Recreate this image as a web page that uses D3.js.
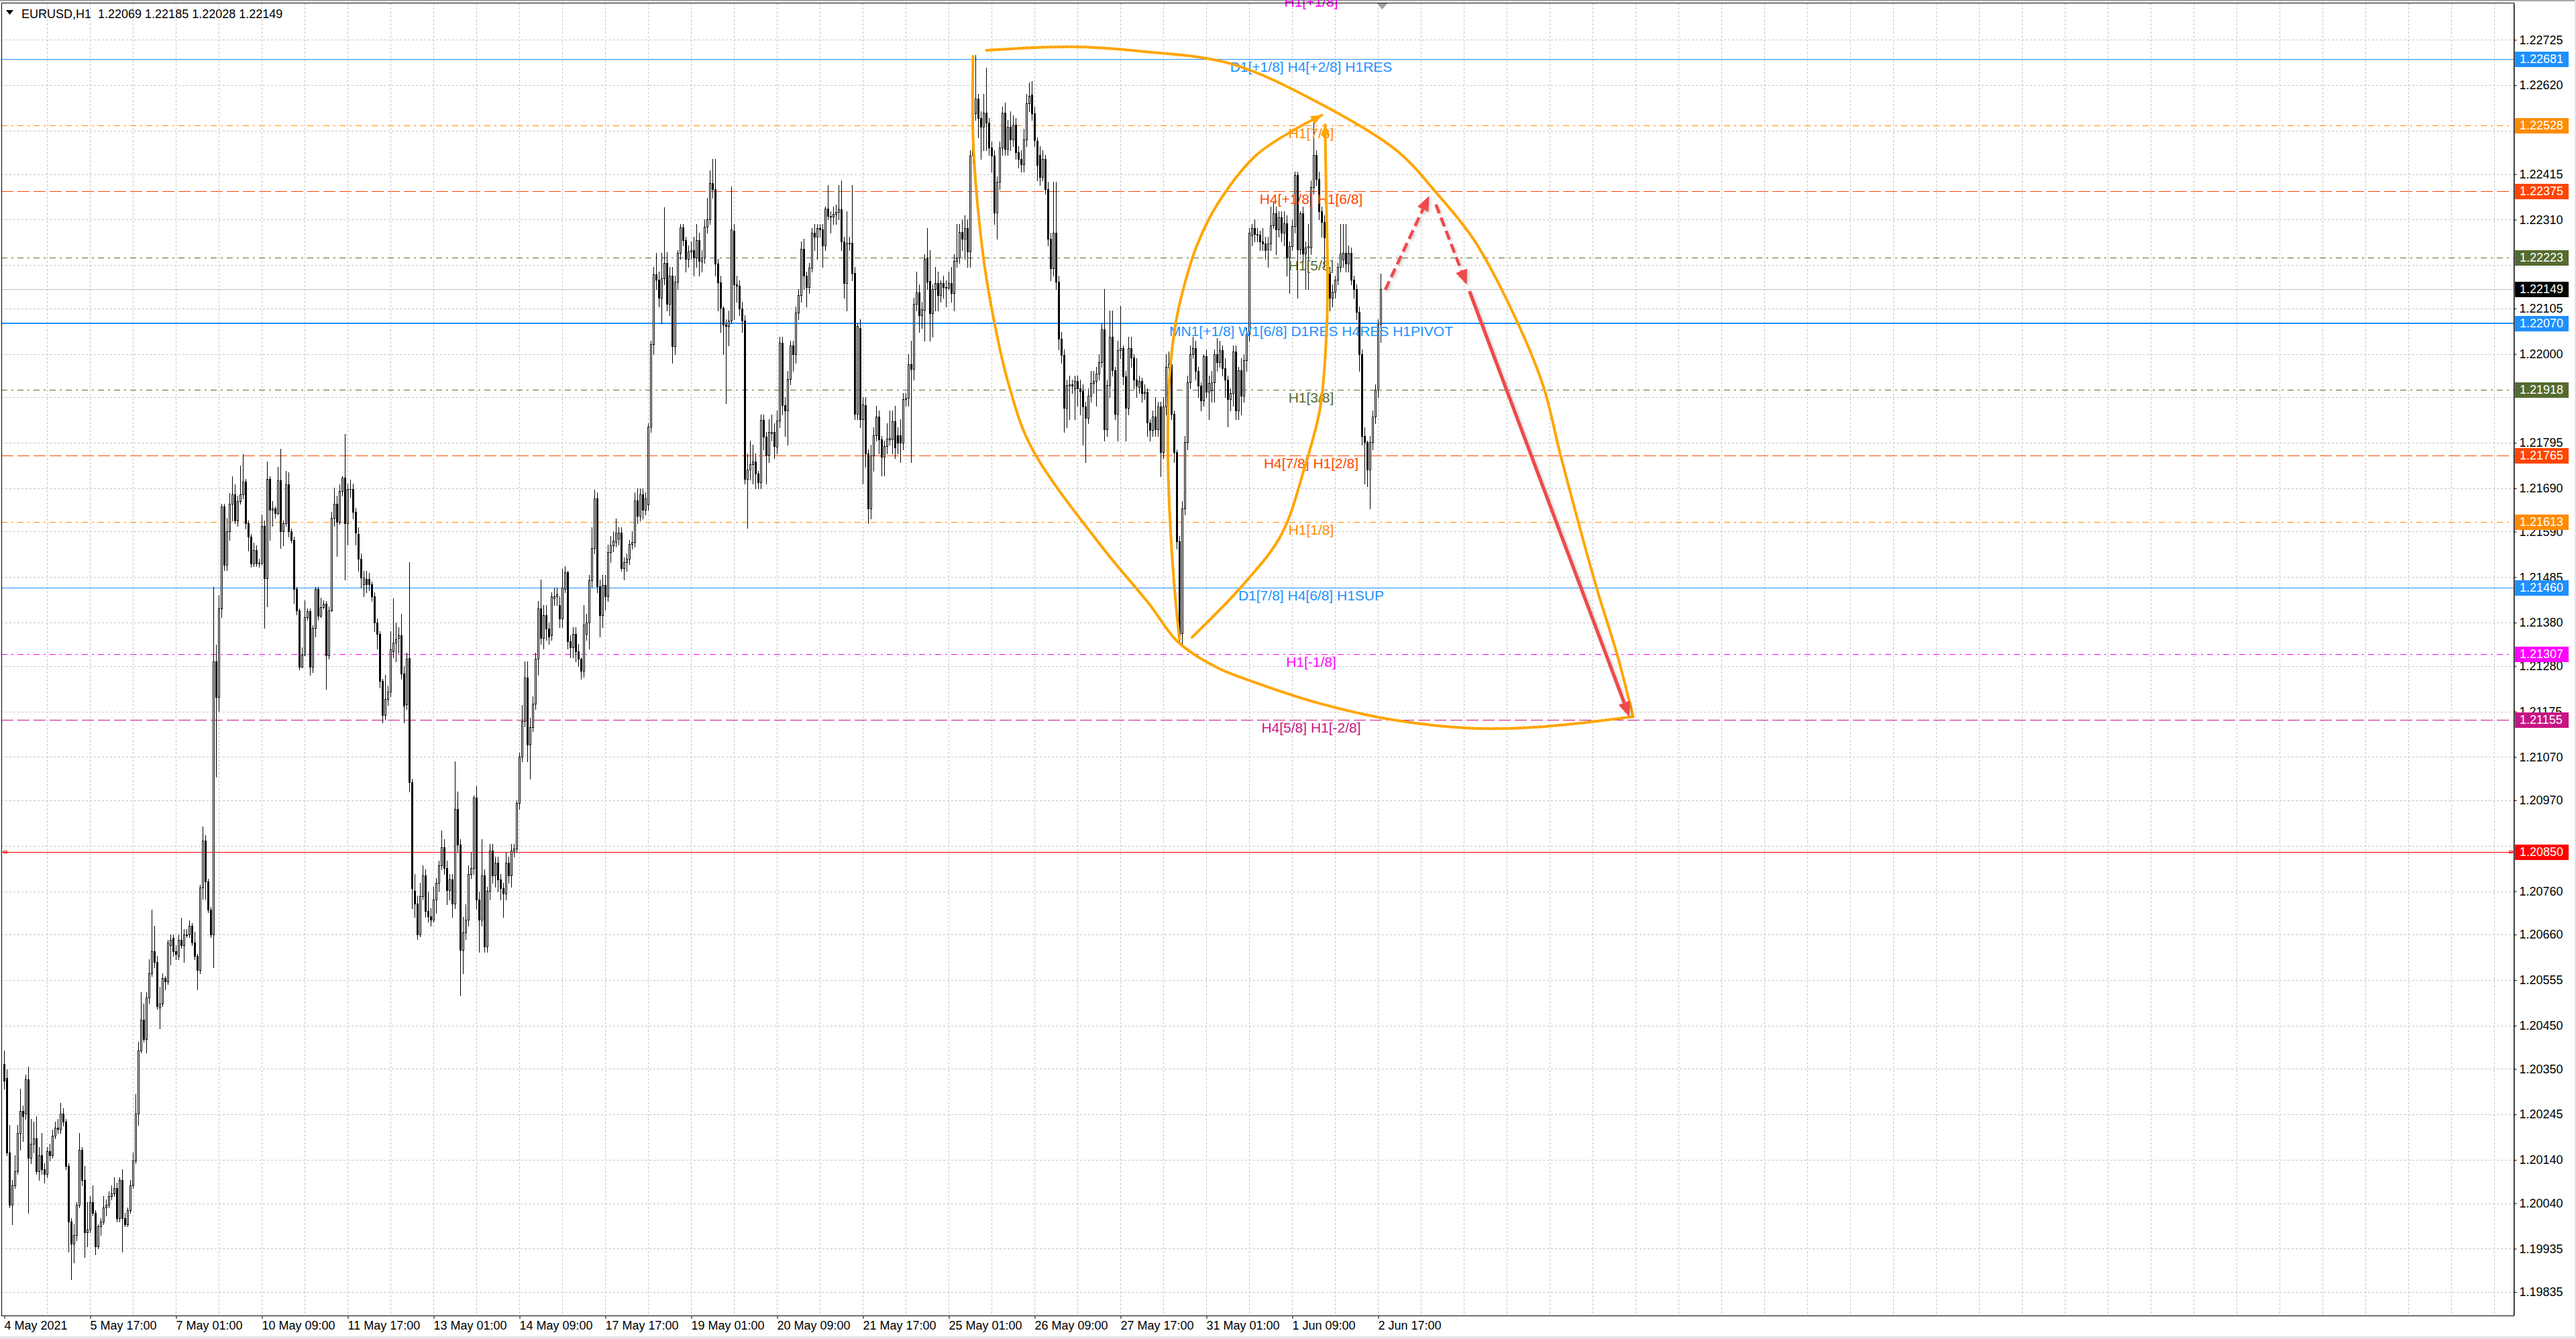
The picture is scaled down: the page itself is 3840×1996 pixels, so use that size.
<!DOCTYPE html>
<html><head><meta charset="utf-8">
<script src="https://cdn.jsdelivr.net/npm/d3@7"></script>
<style>html,body{margin:0;padding:0;background:#fff;overflow:hidden}svg{display:block}</style>
</head><body>
<svg id="chart" width="3840" height="1996"></svg>
<script>
// ---------------- DATA ----------------
const symbolTitle = "EURUSD,H1";
const headerOHLC = [1.22069, 1.22185, 1.22028, 1.22149];

const opens = [
1.20361,1.20329,1.20157,1.20037,1.20081,1.20113,1.20202,1.20253,1.20247,1.20326,
1.20145,1.20177,1.20189,1.20113,1.20151,1.20119,1.20107,1.20160,1.20151,1.20196,
1.20215,1.20211,1.20247,1.20228,1.20126,1.19998,1.19947,1.19966,1.20037,1.20164,
1.20094,1.19973,1.19979,1.20043,1.20018,1.19941,1.19986,1.19998,1.20030,1.20037,
1.20056,1.20062,1.20075,1.20005,1.20094,1.20005,1.19992,1.20024,1.20081,1.20138,
1.20247,1.20393,1.20463,1.20419,1.20514,1.20571,1.20622,1.20597,1.20491,1.20501,
1.20559,1.20552,1.20635,1.20652,1.20622,1.20610,1.20648,1.20635,1.20661,1.20661,
1.20680,1.20641,1.20610,1.20578,1.20769,1.20877,1.20782,1.20718,1.20661,1.21291,
1.21208,1.21412,1.21648,1.21514,1.21590,1.21654,1.21676,1.21616,1.21660,1.21676,
1.21705,1.21609,1.21578,1.21516,1.21548,1.21516,1.21518,1.21603,1.21482,1.21711,
1.21641,1.21643,1.21632,1.21709,1.21590,1.21609,1.21699,1.21590,1.21571,1.21457,
1.21408,1.21278,1.21306,1.21393,1.21406,1.21278,1.21368,1.21457,1.21395,1.21416,
1.21424,1.21304,1.21408,1.21622,1.21654,1.21612,1.21683,1.21715,1.21610,1.21689,
1.21689,1.21636,1.21584,1.21527,1.21468,1.21481,1.21481,1.21468,1.21441,1.21380,
1.21354,1.21245,1.21167,1.21204,1.21220,1.21314,1.21334,1.21345,1.21350,1.21262,
1.21191,1.21298,1.21011,1.20761,1.20732,1.20661,1.20748,1.20797,1.20715,1.20702,
1.20695,1.20741,1.20780,1.20819,1.20862,1.20814,1.20763,1.20787,1.20732,1.20950,
1.20867,1.20624,1.20665,1.20695,1.20800,1.20814,1.20976,1.20741,1.20695,1.20797,
1.20632,1.20761,1.20854,1.20797,1.20826,1.20787,1.20767,1.20754,1.20826,1.20797,
1.20854,1.20858,1.20963,1.21071,1.21152,1.21253,1.21099,1.21139,1.21193,1.21296,
1.21412,1.21345,1.21397,1.21367,1.21350,1.21436,1.21441,1.21420,1.21389,1.21458,
1.21497,1.21337,1.21323,1.21354,1.21314,1.21296,1.21269,1.21354,1.21380,1.21477,
1.21552,1.21666,1.21464,1.21397,1.21467,1.21441,1.21543,1.21558,1.21566,1.21574,
1.21587,1.21506,1.21519,1.21527,1.21562,1.21566,1.21662,1.21627,1.21676,1.21640,
1.21653,1.21832,1.22022,1.22184,1.22171,1.22129,1.22175,1.22210,1.22116,1.22181,
1.22018,1.22166,1.22233,1.22292,1.22262,1.22220,1.22236,1.22240,1.22223,1.22262,
1.22214,1.22223,1.22293,1.22311,1.22394,1.22380,1.22208,1.22165,1.22107,1.22067,
1.22064,1.22077,1.22285,1.22160,1.22157,1.22105,1.22077,1.21711,1.21733,1.21745,
1.21752,1.21724,1.21703,1.21848,1.21809,1.21767,1.21817,1.21820,1.21786,1.21846,
1.22026,1.21882,1.21870,1.21942,1.22019,1.22000,1.22095,1.22135,1.22242,1.22180,
1.22154,1.22199,1.22280,1.22270,1.22290,1.22288,1.22250,1.22335,1.22319,1.22317,
1.22323,1.22328,1.22334,1.22259,1.22163,1.22255,1.22257,1.22187,1.21861,1.22060,
1.21850,1.21882,1.21771,1.21643,1.21765,1.21812,1.21855,1.21803,1.21763,1.21788,
1.21803,1.21803,1.21845,1.21812,1.21812,1.21795,1.21895,1.21899,1.21977,1.21966,
1.22115,1.22142,1.22090,1.22101,1.22223,1.22169,1.22094,1.22150,1.22163,1.22135,
1.22163,1.22154,1.22153,1.22163,1.22140,1.22215,1.22223,1.22281,1.22265,1.22290,
1.22236,1.22458,1.22555,1.22589,1.22545,1.22525,1.22557,1.22533,1.22476,1.22458,
1.22326,1.22398,1.22476,1.22557,1.22473,1.22525,1.22495,1.22529,1.22465,1.22450,
1.22437,1.22495,1.22578,1.22598,1.22555,1.22492,1.22460,1.22408,1.22450,1.22381,
1.22265,1.22197,1.22280,1.22167,1.22035,1.21998,1.21875,1.21926,1.21930,1.21921,
1.21937,1.21921,1.21915,1.21879,1.21853,1.21903,1.21933,1.21937,1.21955,1.21981,
1.22056,1.21826,1.21928,1.22040,1.21963,1.21861,1.22009,1.22014,1.21949,1.21875,
1.22014,1.21991,1.21940,1.21924,1.21937,1.21909,1.21912,1.21842,1.21824,1.21856,
1.21826,1.21878,1.21773,1.21878,1.21970,1.21977,1.21861,1.21773,1.21568,1.21355,
1.21643,1.21796,1.21935,1.22000,1.22014,1.21961,1.21926,1.21893,1.21995,1.21912,
1.21916,1.21935,1.22000,1.21981,1.22009,1.21967,1.21940,1.21896,1.21909,1.22005,
1.21870,1.21963,1.21903,1.21986,1.22046,1.22274,1.22290,1.22277,1.22275,1.22260,
1.22255,1.22241,1.22255,1.22297,1.22325,1.22288,1.22316,1.22279,1.22302,1.22223,
1.22249,1.22295,1.22413,1.22241,1.22325,1.22232,1.22246,1.22246,1.22385,1.22459,
1.22404,1.22329,1.22304,1.22269,1.22186,1.22130,1.22144,1.22172,1.22200,1.22218,
1.22234,1.22209,1.22234,1.22172,1.22149,1.22097,1.22000,1.21810,1.21796,1.21733,
1.21796,1.21856,1.21918,1.22069];

const highs = [
1.20393,1.20349,1.20221,1.20094,1.20151,1.20221,1.20304,1.20266,1.20336,1.20355,
1.20234,1.20228,1.20240,1.20170,1.20202,1.20132,1.20170,1.20177,1.20209,1.20228,
1.20234,1.20272,1.20259,1.20234,1.20132,1.20005,1.19992,1.20043,1.20202,1.20170,
1.20126,1.20043,1.20056,1.20081,1.20024,1.19992,1.20005,1.20056,1.20049,1.20068,
1.20081,1.20100,1.20087,1.20100,1.20119,1.20018,1.20030,1.20094,1.20157,1.20291,
1.20412,1.20527,1.20501,1.20527,1.20603,1.20718,1.20680,1.20610,1.20540,1.20571,
1.20565,1.20648,1.20661,1.20661,1.20635,1.20661,1.20699,1.20673,1.20673,1.20692,
1.20686,1.20667,1.20616,1.20775,1.20909,1.20890,1.20788,1.20724,1.21463,1.21329,
1.21444,1.21654,1.21654,1.21622,1.21679,1.21718,1.21699,1.21673,1.21743,1.21769,
1.21712,1.21616,1.21584,1.21565,1.21559,1.21527,1.21629,1.21616,1.21752,1.21718,
1.21660,1.21648,1.21739,1.21781,1.21616,1.21730,1.21727,1.21597,1.21578,1.21463,
1.21412,1.21323,1.21431,1.21412,1.21412,1.21374,1.21463,1.21463,1.21438,1.21431,
1.21429,1.21418,1.21635,1.21692,1.21673,1.21699,1.21718,1.21816,1.21700,1.21710,
1.21700,1.21645,1.21600,1.21540,1.21500,1.21500,1.21495,1.21475,1.21450,1.21390,
1.21360,1.21250,1.21260,1.21235,1.21360,1.21436,1.21380,1.21370,1.21400,1.21280,
1.21310,1.21520,1.21020,1.20800,1.20750,1.20780,1.20820,1.20810,1.20760,1.20720,
1.20770,1.20790,1.20830,1.20900,1.20880,1.20830,1.20800,1.20800,1.21060,1.20990,
1.20880,1.20700,1.20730,1.20820,1.20850,1.20980,1.21002,1.20760,1.20880,1.20810,
1.20770,1.20870,1.20870,1.20840,1.20840,1.20800,1.20780,1.20850,1.20840,1.20870,
1.20870,1.20970,1.21080,1.21190,1.21290,1.21290,1.21160,1.21210,1.21310,1.21430,
1.21480,1.21420,1.21420,1.21380,1.21450,1.21460,1.21460,1.21440,1.21504,1.21510,
1.21500,1.21350,1.21370,1.21370,1.21330,1.21300,1.21420,1.21400,1.21490,1.21600,
1.21686,1.21680,1.21480,1.21490,1.21490,1.21560,1.21580,1.21590,1.21620,1.21600,
1.21600,1.21530,1.21540,1.21570,1.21590,1.21680,1.21690,1.21690,1.21690,1.21680,
1.21840,1.22030,1.22200,1.22233,1.22190,1.22233,1.22338,1.22235,1.22200,1.22200,
1.22180,1.22240,1.22300,1.22300,1.22270,1.22250,1.22260,1.22270,1.22300,1.22280,
1.22240,1.22310,1.22360,1.22424,1.22450,1.22450,1.22220,1.22180,1.22110,1.22080,
1.22100,1.22386,1.22300,1.22180,1.22170,1.22120,1.22090,1.21770,1.21800,1.21790,
1.21770,1.21730,1.21860,1.21860,1.21820,1.21850,1.21860,1.21840,1.21870,1.22040,
1.22040,1.21900,1.21960,1.22030,1.22030,1.22110,1.22150,1.22260,1.22265,1.22190,
1.22210,1.22290,1.22300,1.22300,1.22300,1.22300,1.22340,1.22390,1.22330,1.22340,
1.22345,1.22390,1.22400,1.22270,1.22330,1.22270,1.22390,1.22200,1.22070,1.22080,
1.21900,1.21900,1.21780,1.21790,1.21830,1.21880,1.21870,1.21810,1.21800,1.21840,
1.21870,1.21870,1.21880,1.21830,1.21850,1.21910,1.21910,1.22000,1.22030,1.22130,
1.22190,1.22160,1.22120,1.22230,1.22290,1.22240,1.22160,1.22200,1.22190,1.22170,
1.22180,1.22170,1.22190,1.22200,1.22230,1.22300,1.22300,1.22310,1.22320,1.22310,
1.22470,1.22620,1.22690,1.22600,1.22560,1.22600,1.22660,1.22545,1.22490,1.22470,
1.22410,1.22490,1.22570,1.22580,1.22540,1.22560,1.22550,1.22545,1.22480,1.22470,
1.22520,1.22600,1.22626,1.22630,1.22570,1.22500,1.22480,1.22470,1.22460,1.22397,
1.22280,1.22397,1.22397,1.22180,1.22050,1.22010,1.21940,1.21950,1.21940,1.21950,
1.21950,1.21940,1.21930,1.21890,1.21920,1.21960,1.21960,1.21970,1.22000,1.22070,
1.22149,1.21940,1.22100,1.22100,1.21970,1.22030,1.22111,1.22020,1.21960,1.22040,
1.22040,1.22000,1.21990,1.21950,1.21945,1.21930,1.21920,1.21850,1.21870,1.21900,
1.21890,1.21890,1.21900,1.22000,1.22005,1.21990,1.21870,1.21780,1.21580,1.21660,
1.21810,1.21950,1.22020,1.22040,1.22030,1.21970,1.21935,1.22000,1.22010,1.21950,
1.21960,1.22010,1.22037,1.22030,1.22020,1.21990,1.21950,1.21920,1.22020,1.22020,
1.21970,1.21990,1.22000,1.22060,1.22290,1.22300,1.22310,1.22290,1.22285,1.22290,
1.22270,1.22270,1.22340,1.22353,1.22340,1.22330,1.22330,1.22330,1.22320,1.22260,
1.22310,1.22420,1.22420,1.22330,1.22340,1.22260,1.22300,1.22400,1.22538,1.22470,
1.22420,1.22340,1.22320,1.22290,1.22200,1.22160,1.22180,1.22210,1.22300,1.22300,
1.22300,1.22250,1.22245,1.22180,1.22160,1.22110,1.22010,1.21830,1.21800,1.21810,
1.21870,1.21930,1.22080,1.22185];

const lows = [
1.20304,1.20151,1.20030,1.19992,1.20075,1.20107,1.20164,1.20183,1.20234,1.20018,
1.20132,1.20157,1.20107,1.20094,1.20107,1.20087,1.20100,1.20138,1.20145,1.20189,
1.20202,1.20202,1.20219,1.20119,1.19928,1.19865,1.19903,1.19954,1.20030,1.20081,
1.19915,1.19941,1.19973,1.20011,1.19922,1.19935,1.19966,1.19992,1.20011,1.20030,
1.20049,1.20056,1.19998,1.19998,1.19928,1.19986,1.19986,1.20018,1.20075,1.20132,
1.20221,1.20387,1.20412,1.20387,1.20501,1.20565,1.20584,1.20489,1.20444,1.20495,
1.20533,1.20546,1.20591,1.20610,1.20603,1.20603,1.20629,1.20597,1.20654,1.20654,
1.20635,1.20603,1.20533,1.20571,1.20743,1.20743,1.20712,1.20654,1.20584,1.21024,
1.21176,1.21393,1.21501,1.21501,1.21571,1.21616,1.21609,1.21603,1.21654,1.21667,
1.21597,1.21546,1.21508,1.21510,1.21510,1.21508,1.21514,1.21368,1.21418,1.21571,
1.21603,1.21622,1.21629,1.21552,1.21559,1.21603,1.21578,1.21565,1.21425,1.21399,
1.21272,1.21276,1.21304,1.21387,1.21259,1.21266,1.21348,1.21387,1.21393,1.21412,
1.21227,1.21297,1.21406,1.21603,1.21533,1.21607,1.21673,1.21480,1.21560,1.21670,
1.21620,1.21560,1.21500,1.21460,1.21440,1.21450,1.21455,1.21430,1.21360,1.21320,
1.21230,1.21150,1.21155,1.21190,1.21210,1.21300,1.21290,1.21310,1.21250,1.21150,
1.21180,1.20990,1.20720,1.20700,1.20650,1.20655,1.20740,1.20700,1.20690,1.20680,
1.20690,1.20710,1.20760,1.20810,1.20800,1.20730,1.20740,1.20700,1.20720,1.20850,
1.20520,1.20570,1.20650,1.20680,1.20790,1.20800,1.20720,1.20620,1.20680,1.20620,
1.20620,1.20740,1.20780,1.20770,1.20760,1.20740,1.20700,1.20740,1.20780,1.20770,
1.20840,1.20850,1.20950,1.21060,1.21140,1.21060,1.21020,1.21130,1.21180,1.21260,
1.21330,1.21320,1.21340,1.21330,1.21340,1.21420,1.21420,1.21370,1.21370,1.21450,
1.21320,1.21300,1.21300,1.21290,1.21280,1.21250,1.21255,1.21340,1.21320,1.21460,
1.21540,1.21450,1.21347,1.21370,1.21410,1.21430,1.21520,1.21545,1.21555,1.21560,
1.21500,1.21480,1.21500,1.21515,1.21550,1.21555,1.21610,1.21615,1.21620,1.21630,
1.21640,1.21820,1.22000,1.22150,1.22110,1.22070,1.22160,1.22100,1.22090,1.21979,
1.22000,1.22150,1.22220,1.22250,1.22190,1.22200,1.22220,1.22180,1.22200,1.22180,
1.22190,1.22210,1.22280,1.22300,1.22360,1.22180,1.22100,1.22050,1.22000,1.21887,
1.22020,1.22070,1.22080,1.22120,1.22090,1.22050,1.21700,1.21598,1.21710,1.21700,
1.21690,1.21690,1.21690,1.21780,1.21700,1.21750,1.21800,1.21760,1.21770,1.21830,
1.21860,1.21810,1.21790,1.21930,1.21960,1.21980,1.22080,1.22120,1.22150,1.22110,
1.22140,1.22190,1.22240,1.22220,1.22270,1.22200,1.22240,1.22310,1.22280,1.22300,
1.22300,1.22310,1.22240,1.22130,1.22100,1.22240,1.22170,1.21850,1.21850,1.21830,
1.21700,1.21740,1.21610,1.21620,1.21730,1.21800,1.21770,1.21720,1.21720,1.21770,
1.21790,1.21770,1.21760,1.21770,1.21750,1.21780,1.21880,1.21880,1.21750,1.21940,
1.22100,1.22050,1.22060,1.22030,1.22150,1.22030,1.22040,1.22100,1.22100,1.22120,
1.22130,1.22110,1.22150,1.22120,1.22100,1.22200,1.22210,1.22240,1.22220,1.22200,
1.22200,1.22440,1.22540,1.22500,1.22450,1.22470,1.22470,1.22460,1.22420,1.22300,
1.22266,1.22380,1.22460,1.22460,1.22460,1.22470,1.22480,1.22450,1.22430,1.22420,
1.22420,1.22480,1.22560,1.22540,1.22480,1.22400,1.22390,1.22400,1.22370,1.22250,
1.22170,1.22180,1.22150,1.22010,1.21980,1.21820,1.21830,1.21850,1.21910,1.21850,
1.21880,1.21860,1.21790,1.21750,1.21840,1.21890,1.21910,1.21880,1.21940,1.21970,
1.21800,1.21810,1.21900,1.21950,1.21850,1.21800,1.21990,1.21930,1.21800,1.21860,
1.21970,1.21920,1.21900,1.21910,1.21890,1.21895,1.21810,1.21800,1.21810,1.21810,
1.21810,1.21717,1.21760,1.21860,1.21940,1.21850,1.21750,1.21550,1.21330,1.21332,
1.21630,1.21780,1.21920,1.21990,1.21940,1.21900,1.21870,1.21880,1.21900,1.21850,
1.21890,1.21890,1.21960,1.21970,1.21950,1.21900,1.21833,1.21870,1.21880,1.21850,
1.21850,1.21860,1.21890,1.21960,1.22030,1.22250,1.22260,1.22260,1.22240,1.22240,
1.22220,1.22200,1.22240,1.22290,1.22230,1.22270,1.22260,1.22250,1.22180,1.22140,
1.22240,1.22280,1.22130,1.22230,1.22210,1.22150,1.22150,1.22230,1.22370,1.22390,
1.22310,1.22270,1.22200,1.22180,1.22100,1.22110,1.22130,1.22160,1.22190,1.22200,
1.22190,1.22190,1.22160,1.22130,1.22080,1.21960,1.21790,1.21700,1.21694,1.21643,
1.21780,1.21840,1.21900,1.22028];

const closes = [
1.20323,1.20157,1.20037,1.20081,1.20113,1.20202,1.20253,1.20240,1.20326,1.20145,
1.20177,1.20189,1.20113,1.20151,1.20119,1.20107,1.20160,1.20151,1.20196,1.20215,
1.20211,1.20247,1.20228,1.20126,1.19998,1.19947,1.19966,1.20037,1.20164,1.20094,
1.19973,1.19979,1.20043,1.20018,1.19941,1.19986,1.19998,1.20030,1.20037,1.20056,
1.20062,1.20075,1.20005,1.20094,1.20005,1.19992,1.20024,1.20081,1.20138,1.20247,
1.20393,1.20463,1.20419,1.20514,1.20571,1.20622,1.20597,1.20495,1.20501,1.20559,
1.20552,1.20641,1.20648,1.20622,1.20616,1.20648,1.20635,1.20661,1.20659,1.20680,
1.20641,1.20610,1.20578,1.20769,1.20877,1.20782,1.20718,1.20661,1.21291,1.21208,
1.21412,1.21648,1.21514,1.21590,1.21654,1.21676,1.21616,1.21660,1.21676,1.21705,
1.21609,1.21578,1.21516,1.21548,1.21516,1.21518,1.21603,1.21482,1.21711,1.21641,
1.21643,1.21632,1.21709,1.21590,1.21609,1.21699,1.21590,1.21571,1.21457,1.21408,
1.21278,1.21306,1.21393,1.21406,1.21278,1.21368,1.21457,1.21395,1.21416,1.21424,
1.21304,1.21408,1.21622,1.21654,1.21612,1.21683,1.21715,1.21610,1.21689,1.21689,
1.21636,1.21588,1.21527,1.21484,1.21484,1.21468,1.21468,1.21441,1.21380,1.21354,
1.21245,1.21167,1.21204,1.21220,1.21318,1.21334,1.21341,1.21350,1.21262,1.21188,
1.21296,1.21011,1.20767,1.20732,1.20661,1.20748,1.20797,1.20715,1.20702,1.20695,
1.20741,1.20780,1.20819,1.20862,1.20814,1.20763,1.20787,1.20732,1.20950,1.20867,
1.20624,1.20665,1.20695,1.20800,1.20814,1.20976,1.20741,1.20695,1.20797,1.20632,
1.20761,1.20854,1.20797,1.20826,1.20787,1.20767,1.20754,1.20826,1.20797,1.20854,
1.20858,1.20963,1.21071,1.21152,1.21253,1.21099,1.21139,1.21193,1.21296,1.21412,
1.21345,1.21397,1.21367,1.21347,1.21441,1.21441,1.21445,1.21389,1.21460,1.21497,
1.21337,1.21323,1.21354,1.21314,1.21296,1.21269,1.21376,1.21380,1.21477,1.21552,
1.21666,1.21464,1.21397,1.21467,1.21441,1.21543,1.21558,1.21569,1.21587,1.21587,
1.21506,1.21519,1.21527,1.21562,1.21566,1.21662,1.21627,1.21676,1.21640,1.21666,
1.21832,1.22022,1.22184,1.22171,1.22129,1.22175,1.22210,1.22116,1.22181,1.22018,
1.22166,1.22233,1.22292,1.22262,1.22220,1.22236,1.22240,1.22223,1.22262,1.22214,
1.22223,1.22293,1.22311,1.22394,1.22380,1.22208,1.22165,1.22107,1.22067,1.22065,
1.22077,1.22287,1.22161,1.22157,1.22105,1.22077,1.21711,1.21733,1.21745,1.21752,
1.21724,1.21703,1.21848,1.21809,1.21767,1.21820,1.21820,1.21788,1.21846,1.22026,
1.21882,1.21870,1.21942,1.22019,1.22000,1.22095,1.22135,1.22242,1.22180,1.22154,
1.22199,1.22280,1.22270,1.22290,1.22288,1.22250,1.22335,1.22319,1.22317,1.22323,
1.22328,1.22334,1.22259,1.22163,1.22257,1.22257,1.22187,1.21861,1.22064,1.21850,
1.21884,1.21771,1.21643,1.21765,1.21812,1.21855,1.21803,1.21763,1.21788,1.21805,
1.21806,1.21845,1.21785,1.21795,1.21795,1.21895,1.21899,1.21977,1.21966,1.22115,
1.22142,1.22090,1.22103,1.22220,1.22167,1.22094,1.22150,1.22163,1.22135,1.22163,
1.22154,1.22153,1.22163,1.22140,1.22215,1.22223,1.22281,1.22265,1.22290,1.22236,
1.22458,1.22555,1.22589,1.22545,1.22525,1.22557,1.22533,1.22476,1.22458,1.22326,
1.22398,1.22476,1.22557,1.22473,1.22525,1.22495,1.22529,1.22465,1.22450,1.22437,
1.22495,1.22578,1.22595,1.22555,1.22493,1.22436,1.22408,1.22450,1.22381,1.22265,
1.22197,1.22280,1.22167,1.22035,1.21998,1.21875,1.21928,1.21930,1.21926,1.21937,
1.21921,1.21915,1.21879,1.21853,1.21903,1.21933,1.21937,1.21955,1.21981,1.22056,
1.21826,1.21928,1.22040,1.21963,1.21861,1.22009,1.22014,1.21949,1.21875,1.22014,
1.21991,1.21940,1.21926,1.21937,1.21909,1.21912,1.21842,1.21824,1.21856,1.21826,
1.21878,1.21773,1.21878,1.21970,1.21977,1.21861,1.21773,1.21568,1.21350,1.21643,
1.21796,1.21935,1.22000,1.22014,1.21961,1.21926,1.21893,1.21995,1.21912,1.21933,
1.21935,1.22000,1.21981,1.22009,1.21967,1.21940,1.21896,1.21909,1.22005,1.21870,
1.21963,1.21903,1.21986,1.22046,1.22279,1.22290,1.22277,1.22275,1.22260,1.22255,
1.22239,1.22255,1.22297,1.22325,1.22288,1.22316,1.22279,1.22302,1.22223,1.22249,
1.22295,1.22413,1.22241,1.22325,1.22232,1.22246,1.22249,1.22385,1.22459,1.22404,
1.22329,1.22304,1.22269,1.22186,1.22130,1.22144,1.22172,1.22200,1.22232,1.22234,
1.22209,1.22234,1.22172,1.22149,1.22097,1.22000,1.21810,1.21796,1.21733,1.21796,
1.21856,1.21918,1.22067,1.22149];

// time labels: one every 32 hourly bars, starting at bar 0
const timeLabels = ["4 May 2021","5 May 17:00","7 May 01:00","10 May 09:00","11 May 17:00","13 May 01:00",
  "14 May 09:00","17 May 17:00","19 May 01:00","20 May 09:00","21 May 17:00","25 May 01:00",
  "26 May 09:00","27 May 17:00","31 May 01:00","1 Jun 09:00","2 Jun 17:00"];

const priceTicks = [1.22725,1.22620,1.22515,1.22415,1.22310,1.22205,1.22105,1.22000,1.21900,1.21795,
  1.21690,1.21590,1.21485,1.21380,1.21280,1.21175,1.21070,1.20970,1.20865,1.20760,1.20660,
  1.20555,1.20450,1.20350,1.20245,1.20140,1.20040,1.19935,1.19835];

// Murrey-style levels
const levelPrices = [1.22681,1.22528,1.22375,1.22223,1.22070,1.21918,1.21765,1.21613,1.21460,1.21307,1.21155,1.20850];
const levelNames = ["D1[+1/8] H4[+2/8] H1RES","H1[7/8]","H4[+1/8] H1[6/8]","H1[5/8]",
  "MN1[+1/8] W1[6/8] D1RES H4RES H1PIVOT","H1[3/8]","H4[7/8] H1[2/8]","H1[1/8]",
  "D1[7/8] H4[6/8] H1SUP","H1[-1/8]","H4[5/8] H1[-2/8]",""];
const topLevelPrice = 1.22831, topLevelName = "H1[+1/8]";
const currentPrice = 1.22149;
const levelLabelBar = 487;   // bar where level captions are centred

// hand-drawn annotations, in (bar index, price)
const outerArcTop = [[366,1.22701],[398,1.22709],[423,1.22699],[457,1.22670],[490,1.22579],[519,1.22469],
  [533.4,1.22374],[547.6,1.22264],[562,1.22098],[573.4,1.21928],[580,1.21765],[593.4,1.21460],[601,1.21307],[607,1.21163]];
const outerArcBowl = [[361,1.22687],[361,1.22500],[362.6,1.22350],[365.4,1.22199],[369,1.22071],[374,1.21936],
  [382.6,1.21786],[409,1.21555],[426.4,1.21425],[437.6,1.21334],[452,1.21276],[461.6,1.21252],[490.4,1.21193],
  [519,1.21154],[547.6,1.21136],[573.4,1.21140],[607,1.21163]];
const innerArcLeft = [[437.9,1.21342],[435.9,1.21472],[434.1,1.21657],[433.6,1.21795],[434.1,1.21935],
  [436.6,1.22074],[440.1,1.22167],[444.4,1.22250],[452.1,1.22346],[466.4,1.22458],[480.9,1.22518],[491,1.22551]];
const innerArcRight = [[442.6,1.21346],[461.6,1.21467],[475.9,1.21583],[484.6,1.21739],[490.4,1.21877],
  [492.9,1.22074],[493.1,1.22208],[492.6,1.22374],[492.2,1.22529]];
const forecastUp = [[514.6,1.22148],[531,1.22365]];
const forecastDown1 = [[533.5,1.22345],[545,1.22160]];
const forecastDown2 = [[546,1.22145],[605.6,1.21163]];

// ---------------- DRAW ----------------
const FONT = "'Liberation Sans', Arial, Helvetica, sans-serif";
const W = 3840, H = 1996;
const plot = {left: 2, top: 5, right: 3747, bottom: 1961};
const x = d3.scaleLinear().domain([0, 513]).range([6.5, 2058.5]);
const y = d3.scaleLinear().domain([1.197824, 1.228092]).range([1960, 5]);
const py = p => Math.round(y(p)) + 0.5;

const svg = d3.select('#chart');
svg.append('rect').attr('width', W).attr('height', H).attr('fill', '#ffffff');

const defs = svg.append('defs');
const f = defs.append('filter').attr('id', 'shadow').attr('x', '-20%').attr('y', '-20%').attr('width', '140%').attr('height', '140%');
f.append('feDropShadow').attr('dx', 2).attr('dy', 2).attr('stdDeviation', 2).attr('flood-color', '#000').attr('flood-opacity', 0.22);

// window edges
svg.append('rect').attr('x', 0).attr('y', 0).attr('width', W).attr('height', 2).attr('fill', '#a8a8a8');
svg.append('rect').attr('x', 0).attr('y', H - 4).attr('width', W).attr('height', 4).attr('fill', '#e3e3e3');
svg.append('rect').attr('x', W - 2).attr('y', 0).attr('width', 2).attr('height', H).attr('fill', '#e3e3e3');

// grid
const grid = svg.append('g').attr('stroke', '#c4c4c4').attr('stroke-width', 1).attr('stroke-dasharray', '3,3');
priceTicks.forEach(p => grid.append('line').attr('x1', plot.left).attr('x2', plot.right).attr('y1', py(p)).attr('y2', py(p)));
const maxBar = Math.floor(x.invert(plot.right - 2));
d3.range(16, maxBar + 1, 16).forEach(i => grid.append('line').attr('x1', x(i)).attr('x2', x(i)).attr('y1', plot.top).attr('y2', plot.bottom));

// level lines
const levelColors = ["#1E90FF","#FF8C00","#FF4500","#556B2F","#1E90FF","#556B2F","#FF4500","#FF8C00","#1E90FF","#FF00FF","#C71585","#FF0000"];
const levelDash = ["", "9,6,3,6", "18,6", "9,6,3,6", "", "9,6,3,6", "18,6", "9,6,3,6", "", "9,6,3,6", "18,6", ""];
const levelWidth = [1,1,1,1,2,1,1,1,1,1,1,1];
const lv = svg.append('g');
levelPrices.forEach((p, k) => {
  const yy = levelWidth[k] === 2 ? Math.round(y(p)) : py(p);
  lv.append('line').attr('x1', plot.left).attr('x2', plot.right).attr('y1', yy).attr('y2', yy)
    .attr('stroke', levelColors[k]).attr('stroke-width', levelWidth[k])
    .attr('stroke-dasharray', levelDash[k] || null);
});
const redY = Math.round(y(levelPrices[11]));
lv.append('rect').attr('x', plot.left + 3.5).attr('y', redY - 1.5).attr('width', 5).attr('height', 3).attr('fill', 'none').attr('stroke', '#FF0000');
lv.append('rect').attr('x', plot.right - 6.5).attr('y', redY - 1.5).attr('width', 5).attr('height', 3).attr('fill', 'none').attr('stroke', '#FF0000');
lv.append('line').attr('x1', plot.left).attr('x2', plot.right).attr('y1', py(currentPrice)).attr('y2', py(currentPrice))
  .attr('stroke', '#c0c0c0').attr('stroke-width', 1);

// candles
const cg = svg.append('g');
opens.forEach((o, i) => {
  const c = closes[i], hi = highs[i], lo = lows[i];
  const cx = x(i);
  cg.append('line').attr('x1', cx).attr('x2', cx).attr('y1', Math.round(y(hi))).attr('y2', Math.round(y(lo)) + 1)
    .attr('stroke', '#000').attr('stroke-width', 1);
  const top = Math.round(y(Math.max(o, c))), bot = Math.round(y(Math.min(o, c)));
  if (c > o && bot - top >= 2) {
    cg.append('rect').attr('x', cx - 1).attr('y', top + 0.5).attr('width', 2).attr('height', bot - top)
      .attr('fill', '#fff').attr('stroke', '#000').attr('stroke-width', 1);
  } else {
    cg.append('rect').attr('x', cx - 1.5).attr('y', top).attr('width', 3).attr('height', Math.max(bot - top + 1, 1))
      .attr('fill', '#000');
  }
});

// level captions
const tg = svg.append('g').attr('font-family', FONT).attr('font-size', 21).attr('text-anchor', 'middle');
levelPrices.forEach((p, k) => {
  if (!levelNames[k]) return;
  tg.append('text').attr('x', x(levelLabelBar)).attr('y', Math.round(y(p)) + 19).attr('fill', levelColors[k]).text(levelNames[k]);
});
tg.append('text').attr('x', x(levelLabelBar)).attr('y', Math.round(y(topLevelPrice)) + 19).attr('fill', '#FF00FF').text(topLevelName);

// orange annotations
const toXY = pts => pts.map(d => [x(d[0]), y(d[1])]);
const curve = d3.line().curve(d3.curveCatmullRom.alpha(0.5));
const ORANGE = '#FFA500';
const ag = svg.append('g').attr('fill', 'none').attr('stroke', ORANGE).attr('stroke-width', 4).attr('stroke-linecap', 'round');
ag.append('path').attr('d', curve(toXY(outerArcTop)));
ag.append('path').attr('d', curve(toXY(outerArcBowl)));
function head(g, pts, color, len, half) {
  const n = pts.length, [x2, y2] = pts[n - 1], [x1, y1] = pts[n - 2];
  const a = Math.atan2(y2 - y1, x2 - x1);
  const bx = x2 - len * Math.cos(a), by = y2 - len * Math.sin(a);
  const p1 = [bx + half * Math.sin(a), by - half * Math.cos(a)];
  const p2 = [bx - half * Math.sin(a), by + half * Math.cos(a)];
  g.append('polygon').attr('points', [[x2, y2], p1, p2].map(p => p.join(',')).join(' ')).attr('fill', color).attr('stroke', 'none');
  return [bx, by];
}
[innerArcLeft, innerArcRight].forEach(arr => {
  const pts = toXY(arr);
  ag.append('path').attr('d', curve(pts));
  head(ag, pts, ORANGE, 16, 7);
});

// red forecast arrows
const RED = '#F04A4A';
const rg = svg.append('g').attr('filter', 'url(#shadow)');
function arrow(arr, dashed, width) {
  const pts = toXY(arr);
  const base = head(rg, pts, RED, 22, 9);
  rg.append('line').attr('x1', pts[0][0]).attr('y1', pts[0][1]).attr('x2', base[0]).attr('y2', base[1])
    .attr('stroke', RED).attr('stroke-width', width).attr('stroke-dasharray', dashed ? '14,7' : null);
}
arrow(forecastUp, true, 4.5);
arrow(forecastDown1, true, 4.5);
arrow(forecastDown2, false, 5);

// plot frame
svg.append('line').attr('x1', plot.left + 0.5).attr('x2', plot.left + 0.5).attr('y1', plot.top).attr('y2', plot.bottom).attr('stroke', '#000');
svg.append('line').attr('x1', plot.left).attr('x2', plot.right).attr('y1', plot.top - 0.5).attr('y2', plot.top - 0.5).attr('stroke', '#000');

// price axis (labels hidden under a coloured price box are skipped, as the terminal does)
const boxPrices = levelPrices.concat([currentPrice]);
const boxColors = levelColors.concat(['#000000']);
const visibleTicks = priceTicks.filter(p => boxPrices.every(b => Math.abs(y(p) - y(b)) >= 12));
const yAxis = d3.axisRight(y).tickValues(visibleTicks).tickSize(4).tickSizeOuter(0).tickPadding(4).tickFormat(d3.format('.5f'));
const ya = svg.append('g').attr('transform', `translate(${plot.right + 0.5},0)`).call(yAxis);
ya.select('.domain').attr('stroke', '#000');
ya.selectAll('line').attr('stroke', '#000');
ya.selectAll('text').attr('font-family', FONT).attr('font-size', 18).attr('fill', '#000');
svg.append('line').attr('x1', plot.right + 0.5).attr('x2', plot.right + 0.5).attr('y1', plot.top - 1).attr('y2', plot.bottom).attr('stroke', '#000');

// coloured price boxes
const bg = svg.append('g').attr('font-family', FONT).attr('font-size', 18);
boxPrices.forEach((p, k) => {
  const yy = Math.round(y(p));
  bg.append('rect').attr('x', plot.right + 2).attr('y', yy - 11).attr('width', 80).attr('height', 23).attr('fill', boxColors[k]);
  bg.append('text').attr('x', plot.right + 9).attr('y', yy).attr('dy', '0.36em').attr('fill', '#fff').text(d3.format('.5f')(p));
});

// time axis
const xAxis = d3.axisBottom(x).tickValues(d3.range(0, 513, 32)).tickFormat((d, i) => timeLabels[i])
  .tickSize(5).tickSizeOuter(0).tickPadding(3);
const xa = svg.append('g').attr('transform', `translate(0,${plot.bottom})`).call(xAxis);
xa.select('.domain').remove();
xa.selectAll('line').attr('stroke', '#000');
xa.selectAll('text').attr('font-family', FONT).attr('font-size', 18).attr('fill', '#000').attr('text-anchor', 'start').attr('x', -0.5);
svg.append('line').attr('x1', plot.left).attr('x2', plot.right + 1).attr('y1', plot.bottom + 0.5).attr('y2', plot.bottom + 0.5).attr('stroke', '#000');

// chart-shift marker
const sx = x(513) + 2;
svg.append('polygon').attr('points', `${sx - 8},5 ${sx + 8},5 ${sx},14`).attr('fill', '#a0a0a0');

// header
svg.append('polygon').attr('points', '9,15 20,15 14.5,22').attr('fill', '#000');
svg.append('text').attr('x', 32).attr('y', 27).attr('font-family', FONT).attr('font-size', 18).attr('fill', '#000')
  .attr('xml:space', 'preserve')
  .text(symbolTitle + '  ' + headerOHLC.map(d3.format('.5f')).join(' '));
</script>
</body></html>
